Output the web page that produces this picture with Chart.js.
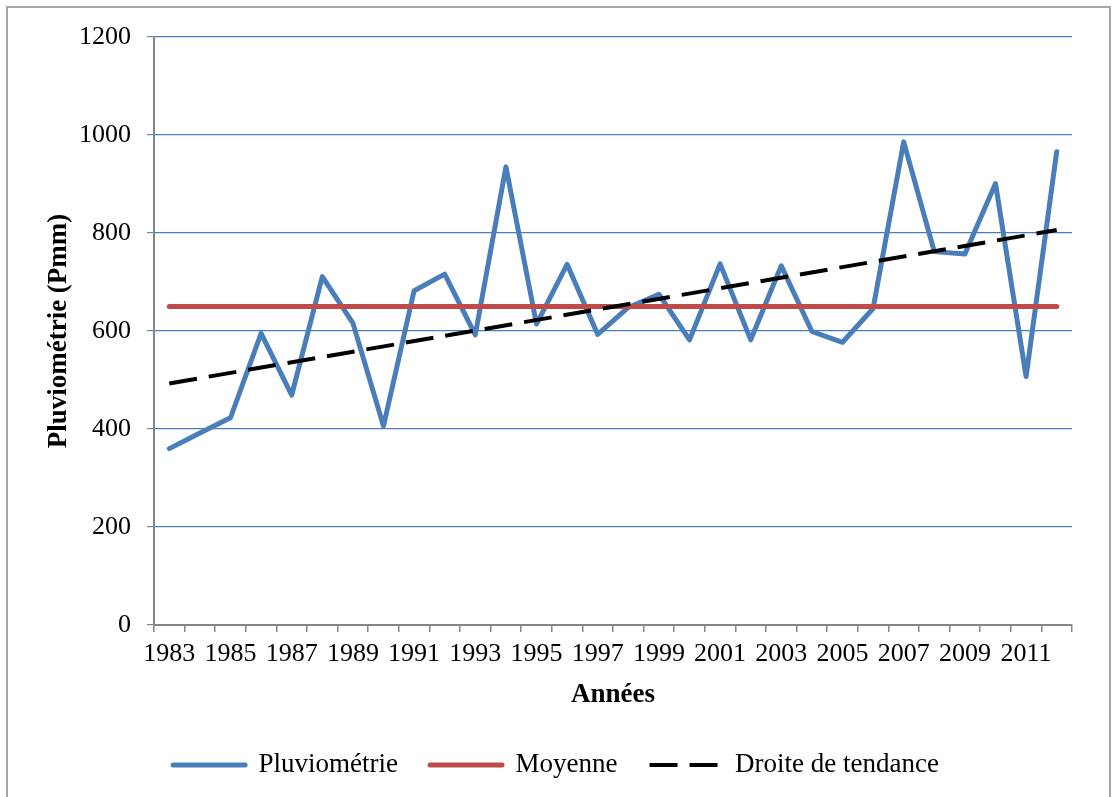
<!DOCTYPE html>
<html lang="fr">
<head>
<meta charset="utf-8">
<title>Pluviométrie 1983-2012</title>
<script src="https://cdn.jsdelivr.net/npm/chart.js@4.4.1/dist/chart.umd.min.js"></script>
<style>
  html, body { margin: 0; padding: 0; background: #fff; overflow: hidden; }
  #frame {
    position: absolute; left: 6px; top: 6px;
    width: 1101px; height: 830px;
    border: 2px solid #a6a6a6;
  }
  #wrap { position: absolute; left: 0; top: 0; width: 1112px; height: 797px; }
</style>
</head>
<body>
<div id="frame"></div>
<div id="wrap"><canvas id="rainChart"></canvas></div>
<script>
// Années 1983 - 2012
const years = ['1983','1984','1985','1986','1987','1988','1989','1990','1991','1992',
  '1993','1994','1995','1996','1997','1998','1999','2000','2001','2002',
  '2003','2004','2005','2006','2007','2008','2009','2010','2011','2012'];

// Pluviométrie annuelle (mm)
const rainfall = [360, 392, 423, 595, 469, 711, 616, 406, 682, 716,
  592, 935, 614, 736, 593, 648, 675, 582, 737, 582,
  733, 599, 577, 646, 986, 762, 757, 901, 507, 966];

// Moyenne : début et fin
const meanEnds = [650, 650];
// Droite de tendance : début et fin
const trendEnds = [493, 806];

const yTicks = [0, 200, 400, 600, 800, 1000, 1200];

const blue = '#4a7ebb';
const red = '#be4b48';
const axisGray = '#868686';
const serif = '"Liberation Serif", "Times New Roman", serif';

const ctx = document.getElementById('rainChart').getContext('2d');

new Chart(ctx, {
  type: 'line',
  data: {
    labels: years,
    datasets: [
      {
        label: 'Pluviométrie',
        data: rainfall,
        borderColor: blue,
        backgroundColor: blue,
        borderWidth: 5,
        borderCapStyle: 'round',
        borderJoinStyle: 'round',
        pointRadius: 0,
        tension: 0,
        order: 3
      },
      {
        label: 'Moyenne',
        data: [{ x: years[0], y: meanEnds[0] }, { x: years[years.length - 1], y: meanEnds[1] }],
        borderColor: red,
        backgroundColor: red,
        borderWidth: 5,
        borderCapStyle: 'round',
        pointRadius: 0,
        order: 2
      },
      {
        label: 'Droite de tendance',
        data: [{ x: years[0], y: trendEnds[0] }, { x: years[years.length - 1], y: trendEnds[1] }],
        borderColor: '#000',
        backgroundColor: '#000',
        borderWidth: 4,
        borderDash: [28, 12],
        pointRadius: 0,
        order: 1
      }
    ]
  },
  options: {
    responsive: true,
    maintainAspectRatio: false,
    animation: false,
    layout: { padding: { left: 40, right: 40, top: 37, bottom: 8.5 } },
    plugins: {
      tooltip: { enabled: false },
      legend: {
        position: 'bottom',
        labels: {
          font: { family: serif, size: 27 },
          color: '#000',
          padding: 32,
          usePointStyle: true,
          pointStyle: 'line',
          pointStyleWidth: 72,
          sort: (a, b) => a.datasetIndex - b.datasetIndex,
          generateLabels: function(chart) {
            const items = Chart.defaults.plugins.legend.labels.generateLabels(chart);
            items.forEach(item => {
              const ds = chart.data.datasets[item.datasetIndex];
              item.lineWidth = ds.borderWidth;
              item.lineDash = ds.borderDash || [];
              item.lineCap = ds.borderDash ? 'butt' : 'round';
              item.strokeStyle = ds.borderColor;
              item.fillStyle = ds.borderColor;
              item.pointStyle = 'line';
            });
            return items;
          }
        }
      }
    },
    scales: {
      x: {
        type: 'category',
        offset: true,
        grid: {
          offset: true,
          drawOnChartArea: false,
          drawTicks: true,
          tickLength: 7,
          color: axisGray,
          lineWidth: 1.5
        },
        border: { color: axisGray, width: 2 },
        ticks: {
          autoSkip: false,
          maxRotation: 0,
          padding: 7,
          color: '#000',
          font: { family: serif, size: 26 },
          callback: function(val, i) { return i % 2 === 0 ? years[i] : ''; }
        },
        title: {
          display: true,
          text: 'Années',
          color: '#000',
          font: { family: serif, size: 27, weight: 'bold' },
          padding: { top: 0, bottom: 8 }
        },
        afterFit: function(scale) { scale.height = 94.5; }
      },
      y: {
        min: 0,
        max: 1200,
        afterBuildTicks: function(scale) { scale.ticks = yTicks.map(v => ({ value: v })); },
        grid: {
          color: blue,
          lineWidth: 1.2,
          tickLength: 7,
          tickColor: axisGray
        },
        border: { color: axisGray, width: 2 },
        ticks: {
          padding: 16,
          color: '#000',
          font: { family: serif, size: 26 },
          callback: function(value) { return String(value); }
        },
        title: {
          display: true,
          text: 'Pluviométrie (Pmm)',
          color: '#000',
          font: { family: serif, size: 27, weight: 'bold' },
          padding: { top: 3, bottom: 0 }
        },
        afterFit: function(scale) { scale.width = 114; }
      }
    }
  }
});
</script>
</body>
</html>
